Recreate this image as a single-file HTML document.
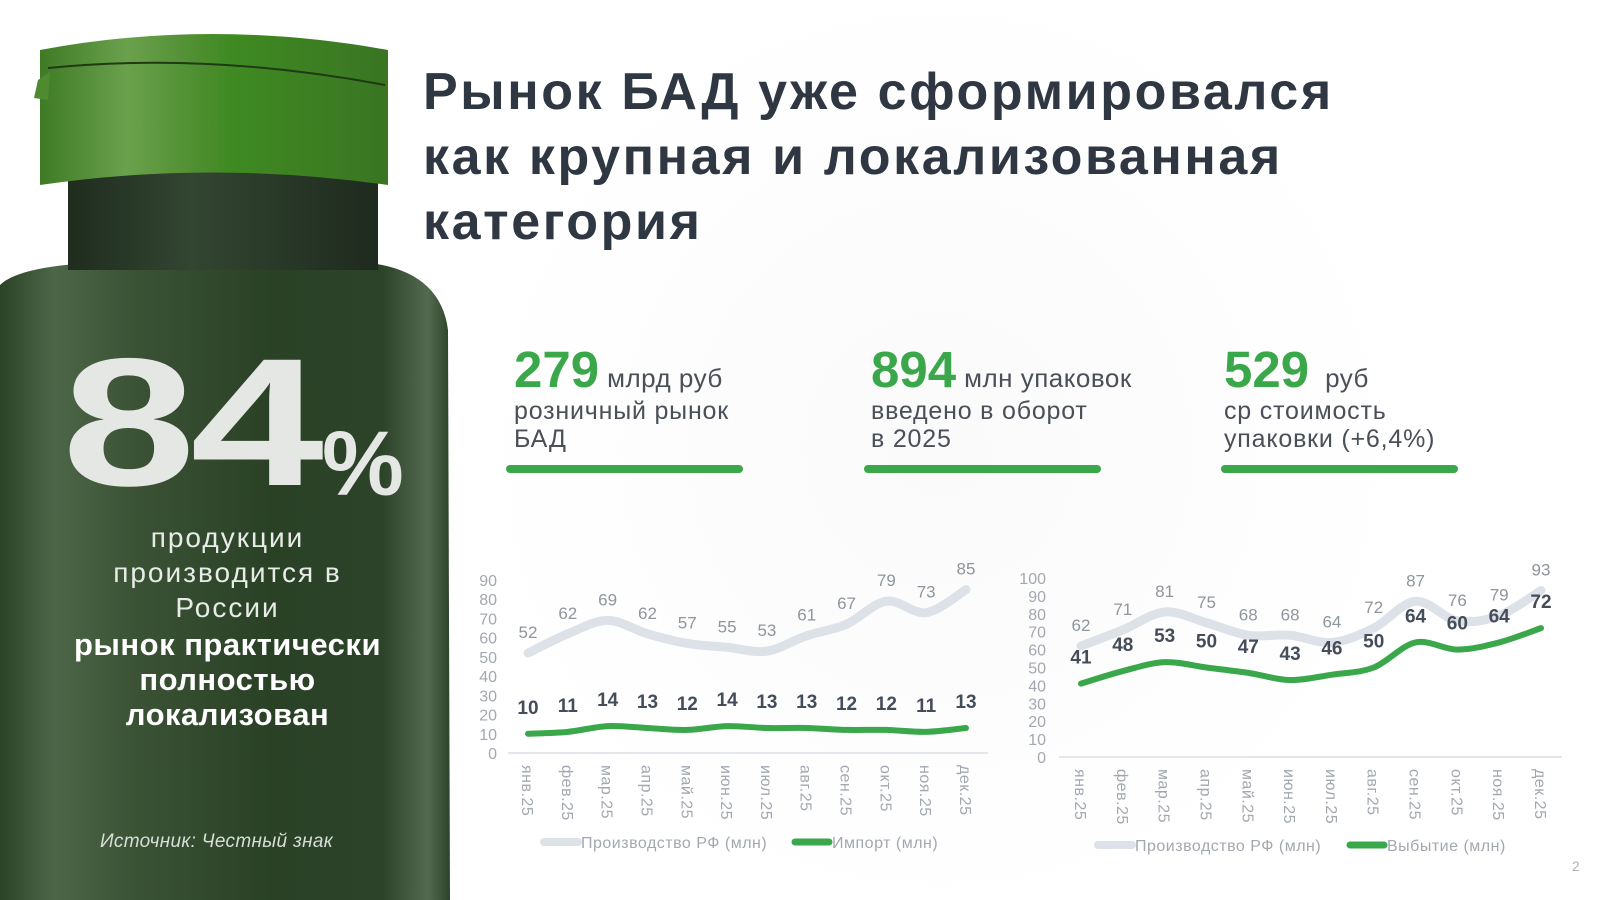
<!DOCTYPE html>
<html><head><meta charset="utf-8"><style>
body{margin:0;width:1600px;height:900px;overflow:hidden;background:#fff;font-family:"Liberation Sans","DejaVu Sans",sans-serif;position:relative}
.abs{position:absolute}
.title{left:423px;top:60px;font-size:52px;font-weight:bold;color:#2f3742;line-height:65px;letter-spacing:2.6px;white-space:nowrap}
.kpi{top:340px}
.kpi .num{font-size:51px;font-weight:bold;color:#3aa84a;letter-spacing:0px}
.kpi .unit{font-size:26px;color:#4a4f58;margin-left:8px;letter-spacing:0.5px}
.kpi .desc{font-size:25px;color:#4a4f58;line-height:28px;margin-top:-2px;letter-spacing:0.8px}
.bar{height:8px;border-radius:4px;background:#3aa84a;width:237px}
.left-txt{color:#e8ece8;text-align:center;width:460px;left:0}
</style></head><body>
<div class="abs" style="left:440px;top:0;width:1000px;height:900px;border-radius:50%;background:radial-gradient(circle,#fafafa 0%,#fff 70%)"></div>
<svg class="abs" style="left:0;top:0" width="470" height="900">
<defs>
<linearGradient id="cap" x1="0" x2="1"><stop offset="0" stop-color="#3f7a25"/><stop offset="0.25" stop-color="#6aa14c"/><stop offset="0.45" stop-color="#4f8e31"/><stop offset="0.55" stop-color="#3f8a22"/><stop offset="1" stop-color="#3a7522"/></linearGradient>
<linearGradient id="body" x1="0" x2="1"><stop offset="0" stop-color="#2b4226"/><stop offset="0.12" stop-color="#4e6648"/><stop offset="0.3" stop-color="#3b5235"/><stop offset="0.6" stop-color="#2a4126"/><stop offset="0.85" stop-color="#2c432a"/><stop offset="0.95" stop-color="#546a50"/><stop offset="1" stop-color="#2e432b"/></linearGradient>
<linearGradient id="neck" x1="0" x2="1"><stop offset="0" stop-color="#1f2c1e"/><stop offset="0.4" stop-color="#334632"/><stop offset="1" stop-color="#1e2a1d"/></linearGradient>
</defs>
<path d="M0 285 Q20 265 110 262 L360 262 Q440 268 448 330 L450 900 L0 900 Z" fill="url(#body)"/>
<rect x="68" y="165" width="310" height="105" fill="url(#neck)"/>
<path d="M40 50 Q210 18 388 50 L388 185 Q210 160 40 185 Z" fill="url(#cap)"/>
<path d="M48 68 Q210 52 385 85" stroke="#1f3a14" stroke-width="2" fill="none"/>
<path d="M38 80 L50 72 L48 100 L34 98 Z" fill="#4d8a30"/>
</svg>
<div class="abs" style="top:322px;left:62px;font-size:182px;font-weight:bold;line-height:200px;color:#e4e7e3;transform:scaleX(1.32);transform-origin:0 0;letter-spacing:-4px">84</div>
<div class="abs" style="left:322px;top:412px;font-size:92px;font-weight:bold;color:#e4e7e3;letter-spacing:-2px">%</div>
<div class="abs left-txt" style="top:520px;left:0;width:455px;font-size:28px;line-height:35px;letter-spacing:2px">продукции<br>производится в<br>России</div>
<div class="abs left-txt" style="top:627px;left:0;width:455px;font-size:31px;line-height:35px;font-weight:bold;color:#fff;letter-spacing:0.5px">рынок практически<br>полностью<br>локализован</div>
<div class="abs" style="left:100px;top:831px;font-size:19px;font-style:italic;color:#d8ddd8;letter-spacing:0.3px">Источник: Честный знак</div>

<div class="abs title">Рынок БАД уже сформировался<br>как крупная и локализованная<br>категория</div>

<div class="abs kpi" style="left:514px"><span class="num">279</span><span class="unit">млрд руб</span><div class="desc">розничный рынок<br>БАД</div></div>
<div class="abs bar" style="left:506px;top:465px"></div>
<div class="abs kpi" style="left:871px"><span class="num">894</span><span class="unit">млн упаковок</span><div class="desc">введено в оборот<br>в 2025</div></div>
<div class="abs bar" style="left:864px;top:465px"></div>
<div class="abs kpi" style="left:1224px"><span class="num">529</span><span class="unit" style="margin-left:16px">руб</span><div class="desc">ср стоимость<br>упаковки (+6,4%)</div></div>
<div class="abs bar" style="left:1221px;top:465px"></div>

<svg class="abs" style="left:0;top:0" width="1600" height="900" id="charts"></svg>
<div class="abs" style="left:1572px;top:858px;font-size:14px;color:#b0b4ba">2</div>

<script>
const months=["янв.25","фев.25","мар.25","апр.25","май.25","июн.25","июл.25","авг.25","сен.25","окт.25","ноя.25","дек.25"];
const prod1=[52,62,69,62,57,55,53,61,67,79,73,85];
const import1=[10,11,14,13,12,14,13,13,12,12,11,13];
const ticks1=[0,10,20,30,40,50,60,70,80,90];
const prod2=[62,71,81,75,68,68,64,72,87,76,79,93];
const out2=[41,48,53,50,47,43,46,50,64,60,64,72];
const ticks2=[0,10,20,30,40,50,60,70,80,90,100];
const legend1=["Производство РФ (млн)","Импорт (млн)"];
const legend2=["Производство РФ (млн)","Выбытие (млн)"];

const svg=document.getElementById('charts');
const NS='http://www.w3.org/2000/svg';
function el(t,a,txt){const e=document.createElementNS(NS,t);for(const k in a)e.setAttribute(k,a[k]);if(txt!==undefined)e.textContent=txt;svg.appendChild(e);return e;}
function smooth(pts){let d='M'+pts[0][0]+' '+pts[0][1];for(let i=0;i<pts.length-1;i++){const p0=pts[i-1]||pts[i],p1=pts[i],p2=pts[i+1],p3=pts[i+2]||p2;const c1=[p1[0]+(p2[0]-p0[0])/6,p1[1]+(p2[1]-p0[1])/6],c2=[p2[0]-(p3[0]-p1[0])/6,p2[1]-(p3[1]-p1[1])/6];d+=` C${c1[0]} ${c1[1]} ${c2[0]} ${c2[1]} ${p2[0]} ${p2[1]}`;}return d;}
function chart(c){
  const x=i=>c.x0+i*(c.x1-c.x0)/(months.length-1);
  const y=v=>c.y0-(v/c.max)*(c.y0-c.yTop);
  c.ticks.forEach(t=>{const e=el('text',{x:c.axX,y:y(t)+6,'text-anchor':'end','font-size':16,fill:'#a3a8b0'},t);
    
    });
  const ax=el('line',{x1:c.bx0,x2:c.bx1,y1:c.y0,y2:c.y0,stroke:'#e3e6ea','stroke-width':2});
  
  
  months.forEach((m,i)=>{const e=el('text',{x:0,y:0,transform:`translate(${x(i)-6},${c.y0+12}) rotate(90)`,'font-size':16,fill:'#a3a8b0','letter-spacing':'0.5'},m);
    
    });
  const p1=el('path',{d:smooth(c.s1.map((v,i)=>[x(i),y(v)])),stroke:'#dde1e8','stroke-width':9,fill:'none','stroke-linecap':'round'});
  
  
  const p2=el('path',{d:smooth(c.s2.map((v,i)=>[x(i),y(v)])),stroke:'#3aa84a','stroke-width':6,fill:'none','stroke-linecap':'round'});
  
  
  c.s1.forEach((v,i)=>{const e=el('text',{x:x(i),y:y(v)-15,'text-anchor':'middle','font-size':17,fill:'#8f959e'},v);
    
    });
  c.s2.forEach((v,i)=>{const e=el('text',{x:x(i),y:y(v)-c.off,'text-anchor':'middle','font-size':19,'font-weight':'bold',fill:'#454d5a'},v);
    
    });
  const l1=el('line',{x1:c.lg[0],x2:c.lg[0]+34,y1:c.ly,y2:c.ly,stroke:'#dde1e8','stroke-width':8,'stroke-linecap':'round'});
  
  
  const t1=el('text',{x:c.lg[0]+37,y:c.ly+6,'font-size':16,fill:'#a3a8b0','letter-spacing':'0.5'},c.legend[0]);
  
  
  const l2=el('line',{x1:c.lg[1],x2:c.lg[1]+34,y1:c.ly,y2:c.ly,stroke:'#3aa84a','stroke-width':7,'stroke-linecap':'round'});
  
  
  const t2=el('text',{x:c.lg[1]+37,y:c.ly+6,'font-size':16,fill:'#a3a8b0','letter-spacing':'0.5'},c.legend[1]);
  
  
}
chart({x0:528,x1:966,bx0:508,bx1:988,y0:753,yTop:580,max:90,ticks:ticks1,axX:497,s1:prod1,s2:import1,off:20,lg:[544,795],ly:842,legend:legend1});
chart({x0:1081,x1:1541,bx0:1059,bx1:1562,y0:757,yTop:578,max:100,ticks:ticks2,axX:1046,s1:prod2,s2:out2,off:20,lg:[1098,1350],ly:845,legend:legend2});
</script>
</body></html>
